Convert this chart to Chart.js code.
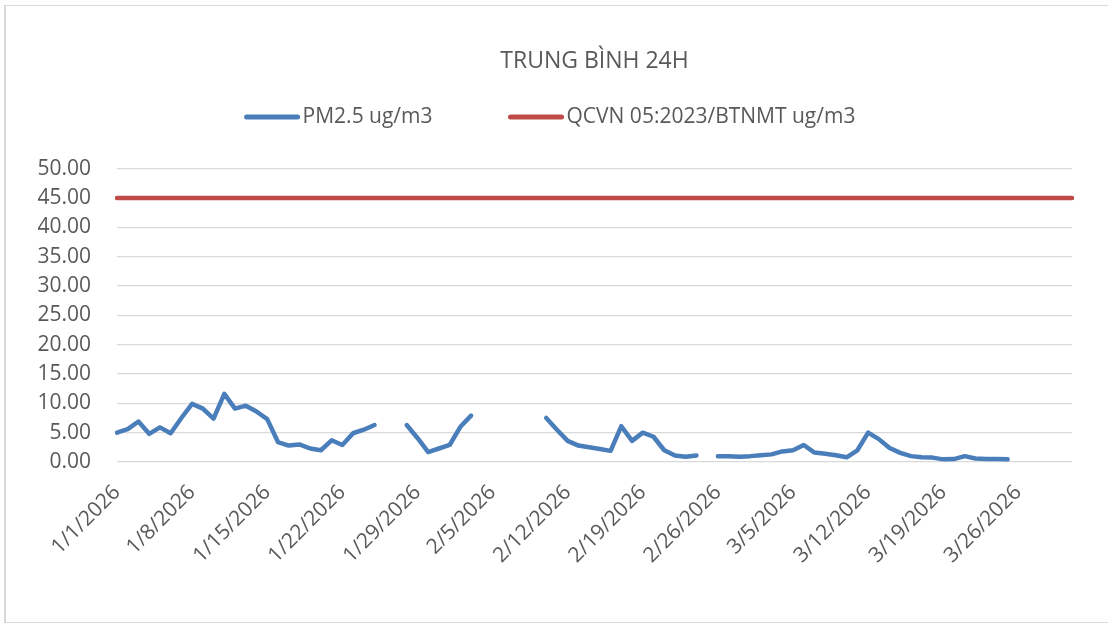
<!DOCTYPE html>
<html>
<head>
<meta charset="utf-8">
<script src="https://cdn.jsdelivr.net/npm/chart.js@4.4.1/dist/chart.umd.min.js"></script>
<style>
    body { margin: 0; background: #fff; overflow: hidden; }
    #wrap {
        position: absolute; left: 4px; top: 5px;
        width: 1110px; height: 616px;
        border: 1px solid #d9d9d9; border-left-width: 2px;
    }
</style>
</head>
<body>
<div id="wrap"><canvas id="chart"></canvas></div>
<script>
// dates 1/1/2026 .. 3/31/2026
var dates = [
    "1/1/2026", "1/2/2026", "1/3/2026", "1/4/2026", "1/5/2026", "1/6/2026", "1/7/2026", "1/8/2026", "1/9/2026", "1/10/2026",
    "1/11/2026", "1/12/2026", "1/13/2026", "1/14/2026", "1/15/2026", "1/16/2026", "1/17/2026", "1/18/2026", "1/19/2026", "1/20/2026",
    "1/21/2026", "1/22/2026", "1/23/2026", "1/24/2026", "1/25/2026", "1/26/2026", "1/27/2026", "1/28/2026", "1/29/2026", "1/30/2026",
    "1/31/2026", "2/1/2026", "2/2/2026", "2/3/2026", "2/4/2026", "2/5/2026", "2/6/2026", "2/7/2026", "2/8/2026", "2/9/2026",
    "2/10/2026", "2/11/2026", "2/12/2026", "2/13/2026", "2/14/2026", "2/15/2026", "2/16/2026", "2/17/2026", "2/18/2026", "2/19/2026",
    "2/20/2026", "2/21/2026", "2/22/2026", "2/23/2026", "2/24/2026", "2/25/2026", "2/26/2026", "2/27/2026", "2/28/2026", "3/1/2026",
    "3/2/2026", "3/3/2026", "3/4/2026", "3/5/2026", "3/6/2026", "3/7/2026", "3/8/2026", "3/9/2026", "3/10/2026", "3/11/2026",
    "3/12/2026", "3/13/2026", "3/14/2026", "3/15/2026", "3/16/2026", "3/17/2026", "3/18/2026", "3/19/2026", "3/20/2026", "3/21/2026",
    "3/22/2026", "3/23/2026", "3/24/2026", "3/25/2026", "3/26/2026", "3/27/2026", "3/28/2026", "3/29/2026", "3/30/2026", "3/31/2026"
];

var pm25 = [
    5.0, 5.6, 6.9, 4.8, 5.9, 4.9, 7.5, 9.9, 9.1, 7.4,
    11.6, 9.1, 9.6, 8.6, 7.3, 3.4, 2.8, 3.0, 2.3, 2.0,
    3.7, 2.9, 4.9, 5.5, 6.3, null, null, 6.3, 4.1, 1.7,
    2.3, 2.9, 6.0, 7.9, null, null, null, null, null, null,
    7.5, 5.5, 3.6, 2.8, 2.5, 2.2, 1.9, 6.1, 3.6, 5.0,
    4.3, 2.0, 1.1, 0.9, 1.1, null, 1.0, 1.0, 0.9, 1.0,
    1.15, 1.3, 1.8, 2.0, 2.9, 1.6, 1.4, 1.15, 0.8, 2.0,
    5.0, 3.9, 2.4, 1.55, 1.0, 0.8, 0.75, 0.45, 0.5, 1.0,
    0.6, 0.5, 0.5, 0.45, null, null, null, null, null, null
];

var qcvnLimit = 45;
var yTicks = [0, 5, 10, 15, 20, 25, 30, 35, 40, 45, 50];

var textColor = "#595959";
var fontFamily = "'Open Sans', sans-serif";

// Excel-style legend: long line swatch, text right after it
var lineLegend = {
    id: "lineLegend",
    afterDraw: function (chart) {
        var ctx = chart.ctx;
        var sets = chart.data.datasets;
        var swatch = 55, gap = 3, spacing = 76;
        ctx.save();
        ctx.font = "21px " + fontFamily;
        var total = 0;
        for (var i = 0; i < sets.length; i++) {
            total += swatch + gap + ctx.measureText(sets[i].label).width;
        }
        total += spacing * (sets.length - 1);
        var x = chart.width / 2 - 11 - total / 2;
        var y = 111;
        for (var i = 0; i < sets.length; i++) {
            ctx.strokeStyle = sets[i].borderColor;
            ctx.lineWidth = 5;
            ctx.lineCap = "round";
            ctx.beginPath();
            ctx.moveTo(x + 2, y);
            ctx.lineTo(x + swatch - 2, y);
            ctx.stroke();
            ctx.fillStyle = textColor;
            ctx.textBaseline = "middle";
            ctx.textAlign = "left";
            ctx.fillText(sets[i].label, x + swatch + gap, y);
            x += swatch + gap + ctx.measureText(sets[i].label).width + spacing;
        }
        ctx.restore();
    }
};

var ctx = document.getElementById("chart").getContext("2d");
var myChart = new Chart(ctx, {
    type: "line",
    data: {
        labels: dates,
        datasets: [
            {
                label: "PM2.5 ug/m3",
                data: pm25,
                borderColor: "#4a7ebb",
                borderWidth: 4.5,
                borderCapStyle: "round",
                borderJoinStyle: "round",
                pointRadius: 0,
                spanGaps: false,
                tension: 0
            },
            {
                label: "QCVN 05:2023/BTNMT ug/m3",
                data: [
                    { x: dates[0], y: qcvnLimit },
                    { x: dates[dates.length - 1], y: qcvnLimit }
                ],
                borderColor: "#be4b48",
                borderWidth: 4.5,
                borderCapStyle: "round",
                pointRadius: 0
            }
        ]
    },
    options: {
        responsive: true,
        maintainAspectRatio: false,
        animation: { duration: 0 },
        layout: {
            padding: { left: 0, right: 44, top: 0, bottom: 0 }
        },
        plugins: {
            legend: { display: false },
            tooltip: { enabled: false },
            title: {
                display: true,
                text: "TRUNG BÌNH 24H",
                fullSize: false,
                color: textColor,
                font: { family: fontFamily, size: 23, weight: "normal", lineHeight: 1.2 },
                padding: { top: 42, bottom: 93 }
            }
        },
        scales: {
            x: {
                grid: { display: false },
                border: { display: false },
                ticks: {
                    autoSkip: false,
                    minRotation: 45,
                    maxRotation: 45,
                    padding: 10,
                    color: textColor,
                    font: { family: fontFamily, size: 21 },
                    callback: function (value, index) {
                        return index % 7 === 0 ? this.getLabelForValue(value) : null;
                    }
                },
                afterFit: function (scale) {
                    scale.height = 160;
                }
            },
            y: {
                min: 0,
                max: 50,
                afterBuildTicks: function (scale) {
                    scale.ticks = yTicks.map(function (v) { return { value: v }; });
                },
                grid: { color: "#d9d9d9", lineWidth: 1.3, drawTicks: false },
                border: { display: false },
                ticks: {
                    padding: 26,
                    color: textColor,
                    font: { family: fontFamily, size: 21 },
                    callback: function (v) { return v.toFixed(2); }
                },
                afterFit: function (scale) {
                    scale.width = 111;
                }
            }
        }
    },
    plugins: [lineLegend]
});
</script>
</body>
</html>
